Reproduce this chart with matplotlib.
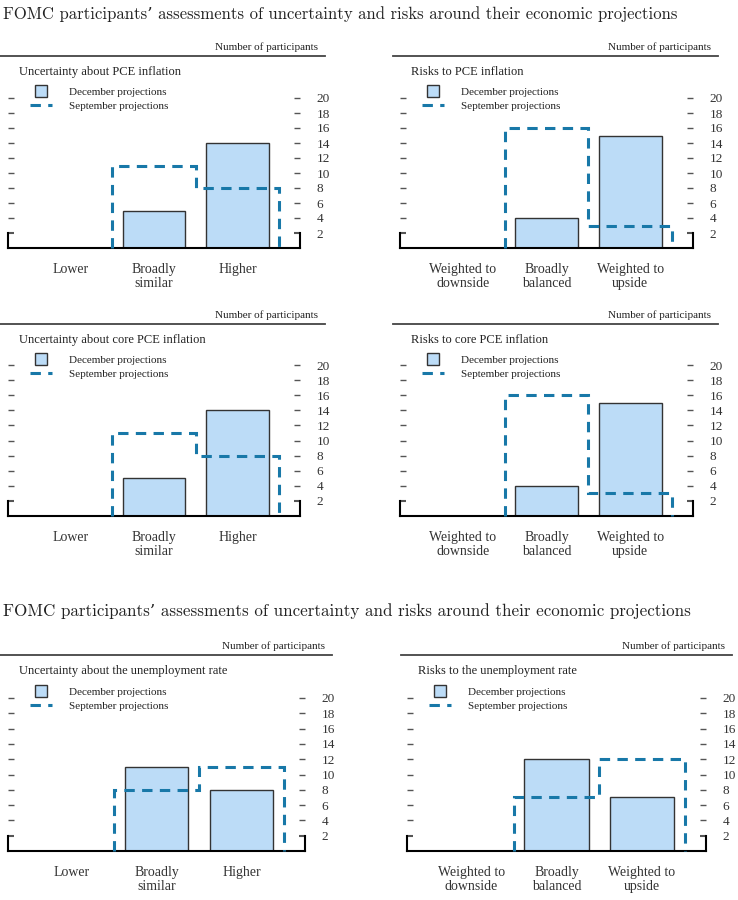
import numpy as np
import matplotlib
matplotlib.use("Agg")
from matplotlib import pyplot as plt
from matplotlib.lines import Line2D

# categories
uncert_cats = ["Lower", "Broadly\nsimilar", "Higher"]
risk_cats = ["Weighted to\ndownside", "Broadly\nbalanced", "Weighted to\nupside"]

# number of participants
pce_unc_dec = [0, 5, 14]
pce_unc_sep = [0, 11, 8]
pce_risk_dec = [0, 4, 15]
pce_risk_sep = [0, 16, 3]
core_unc_dec = [0, 5, 14]
core_unc_sep = [0, 11, 8]
core_risk_dec = [0, 4, 15]
core_risk_sep = [0, 16, 3]
unemp_unc_dec = [0, 11, 8]
unemp_unc_sep = [0, 8, 11]
unemp_risk_dec = [0, 12, 7]
unemp_risk_sep = [0, 7, 12]

yticks = [2, 4, 6, 8, 10, 12, 14, 16, 18, 20]

main_title = "FOMC participants\u2019 assessments of uncertainty and risks around their economic projections"

W, H = 738, 900
BAR = "#bcdcf7"
EDGE = "#333333"
SEP = "#1878a8"
SERIF = "Liberation Serif"

fig = plt.figure(figsize=(W / 100, H / 100), dpi=100)


def fx(x):
    return x / W


def fy(y):
    return 1 - y / H


def panel(title, cats, dec, sep, left, right, base, s, hdr0, hdr1, k=1.0):
    # s = pixels per participant, k = scale of the bottom image
    ax = fig.add_axes([fx(left), fy(base), (right - left) / W, 20 * s / H])
    x = np.arange(len(cats))
    ax.bar(x, dec, width=0.75, color=BAR, edgecolor=EDGE, linewidth=1.0, zorder=2)
    nz = np.nonzero(sep)[0][0]
    edges = np.arange(len(cats) + 1) - 0.5
    ax.stairs(sep[nz:], edges[nz:], baseline=0, fill=False, color=SEP,
              linewidth=2.2, linestyle=(0, (3.4, 2.4)), zorder=3, clip_on=False)
    ax.set_xlim(-0.75, len(cats) - 0.25)
    ax.set_ylim(0, 20)
    ax.set_xticks(x)
    ax.set_xticklabels(cats, fontsize=10, family=SERIF, color="#333333", linespacing=1.12)
    ax.tick_params(axis="x", length=0, pad=10.8)
    ax.set_yticks(yticks)
    ax.tick_params(axis="y", left=True, right=True, labelleft=False, labelright=True,
                   direction="in", length=4, width=1.0, color="#555555", pad=12,
                   labelsize=9.5, labelcolor="#333333")
    for lab in ax.get_yticklabels():
        lab.set_family(SERIF)
    t = ax.yaxis.get_major_ticks()[0]
    t.tick1line.set_color("black")
    t.tick2line.set_color("black")
    t.tick1line.set_markeredgewidth(1.5)
    t.tick2line.set_markeredgewidth(1.5)
    ax.spines["top"].set_visible(False)
    for side in ["left", "right", "bottom"]:
        ax.spines[side].set_linewidth(1.5)
        ax.spines[side].set_color("black")
    ax.spines["left"].set_bounds(0, 2)
    ax.spines["right"].set_bounds(0, 2)
    ax.patch.set_visible(False)

    # header rule and unit label
    fig.add_artist(Line2D([fx(hdr0), fx(hdr1)], [fy(base - 192 * k)] * 2,
                          color="#444444", linewidth=1.3))
    fig.text(fx(hdr1 - 7), fy(base - 201 * k), "Number of participants", ha="right",
             va="center", fontsize=8, family=SERIF, color="#222222")
    fig.text(fx(left + 11 * k), fy(base - 176 * k), title, ha="left", va="center",
             fontsize=9, family=SERIF, color="#222222")
    handles = [Line2D([], [], marker="s", markersize=8.5, markerfacecolor=BAR,
                      markeredgecolor=EDGE, markeredgewidth=1.0, linestyle="none"),
               Line2D([], [], color=SEP, linewidth=2.2, linestyle=(0, (3.4, 2.4)))]
    ax.legend(handles, ["December projections", "September projections"],
              loc="upper left", bbox_to_anchor=(fx(left + 16 * k), fy(base - 166 * k)),
              bbox_transform=fig.transFigure, frameon=False, borderpad=0,
              handlelength=2.0, handletextpad=1.55, labelspacing=0.38,
              prop={"family": SERIF, "size": 8}, labelcolor="#222222")
    return ax


fig.text(fx(3), fy(14), main_title, ha="left", va="center", fontsize=12.03,
         family=["cmr10", "DejaVu Serif"], color="#222222")
fig.text(fx(3), fy(611), main_title, ha="left", va="center", fontsize=12.25,
         family=["cmr10", "DejaVu Serif"], color="#222222")

panel("Uncertainty about PCE inflation", uncert_cats, pce_unc_dec, pce_unc_sep,
      8, 300, 248, 7.5, 0, 325)
panel("Risks to PCE inflation", risk_cats, pce_risk_dec, pce_risk_sep,
      400, 693, 248, 7.5, 393, 718)
panel("Uncertainty about core PCE inflation", uncert_cats, core_unc_dec, core_unc_sep,
      8, 300, 516, 7.55, 0, 325)
panel("Risks to core PCE inflation", risk_cats, core_risk_dec, core_risk_sep,
      400, 693, 516, 7.55, 393, 718)
panel("Uncertainty about the unemployment rate", uncert_cats, unemp_unc_dec, unemp_unc_sep,
      8, 305, 851, 7.65, 0, 332, k=1.02)
panel("Risks to the unemployment rate", risk_cats, unemp_risk_dec, unemp_risk_sep,
      407, 706, 851, 7.65, 401, 732, k=1.02)

fig.savefig("out.png", dpi=100)
